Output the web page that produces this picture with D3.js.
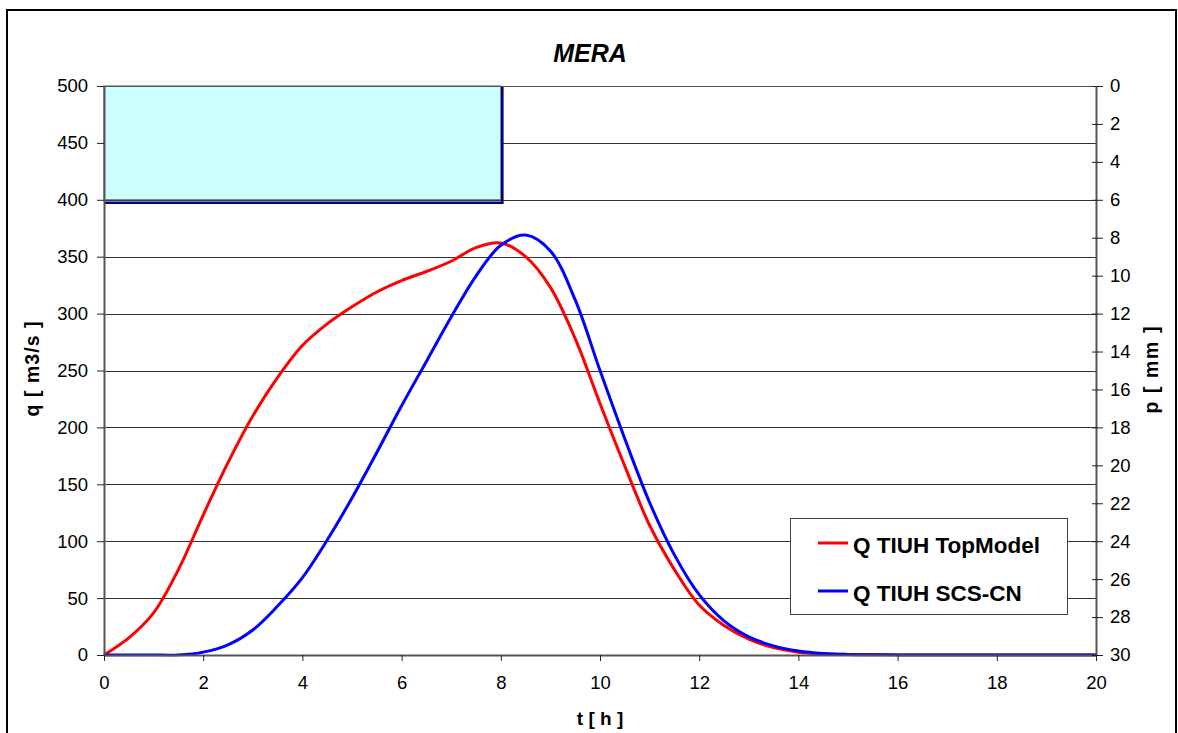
<!DOCTYPE html>
<html>
<head>
<meta charset="utf-8">
<script src="https://cdn.jsdelivr.net/npm/d3@7"></script>
<style>
  html, body { margin: 0; padding: 0; background: #fff; }
  svg { display: block; }
  text { font-family: "Liberation Sans", Arial, sans-serif; fill: #000; }
</style>
</head>
<body>
<svg id="chart" width="1178" height="733"></svg>
<script>
// ---------------- data ----------------
const title = "MERA";
const timeH = [0,0.5,1,1.5,2,2.5,3,3.5,4,4.5,5,5.5,6,6.5,7,7.5,8,8.5,9,9.5,10,10.5,11,11.5,12,12.5,13,13.5,14,14.5,15,15.5,16,16.5,17,17.5,18,18.5,19,19.5,20];
const qTopModel = [0,15,37,75,123,169,210,244,272,291,306,319,329,337,346,358,362,350,323,278,221,166,114,75,44,26,14,6.5,2.5,1,0.4,0.2,0.1,0,0,0,0,0,0,0,0];
const qScsCn    = [0,0,0,0,2.5,9,22,43,68,101,138,178,219,258,297,333,360,369,355,312,250,190,134,88,53,30,16,8,3.5,1.3,0.5,0.2,0.1,0,0,0,0,0,0,0,0];
const rainStart = [0];
const rainEnd   = [8];
const rainDepth = [6];
const seriesNames = ["Q TIUH TopModel", "Q TIUH SCS-CN"];
const seriesColors = ["#FF0000", "#0000FF"];
const xTicks = [0,2,4,6,8,10,12,14,16,18,20];
const yTicks = [0,50,100,150,200,250,300,350,400,450,500];
const pTicks = [0,2,4,6,8,10,12,14,16,18,20,22,24,26,28,30];
const xLabel = "t [ h ]";
const yLabel = "q [ m3/s ]";
const pLabel = "p [ mm ]";

// ---------------- layout ----------------
const svg = d3.select("#chart");
const L = 104, R = 1096, T = 86, B = 655;
const x = d3.scaleLinear().domain([0,20]).range([L,R]);
const y = d3.scaleLinear().domain([0,500]).range([B,T]);
const p = d3.scaleLinear().domain([0,30]).range([T,B]);
const tickFont = "18.5px";

// outer frame
svg.append("rect").attr("x",7).attr("y",10).attr("width",1169).attr("height",740)
  .attr("fill","#fff").attr("stroke","#000").attr("stroke-width",2);

svg.append("defs").append("clipPath").attr("id","plotclip")
  .append("rect").attr("x",L-3).attr("y",T-5).attr("width",R-L+6).attr("height",B-T+6.5);

// gridlines
svg.append("g").selectAll("line").data(yTicks.filter(d => d > 0)).join("line")
  .attr("x1",L).attr("x2",R)
  .attr("y1",d => Math.round(y(d)) + 0.5).attr("y2",d => Math.round(y(d)) + 0.5)
  .attr("stroke","#333").attr("stroke-width",1);

// rain bar
const rain = rainStart.map((s,i) => ({s, e: rainEnd[i], d: rainDepth[i]}));
const rg = svg.append("g");
rg.selectAll("rect.rain").data(rain).join("rect").attr("class","rain")
  .attr("x",d => x(d.s)).attr("y",p(0))
  .attr("width",d => x(d.e) - x(d.s)).attr("height",d => p(d.d) - p(0))
  .attr("fill","#CCFFFF").attr("stroke","#555").attr("stroke-width",1);
rg.selectAll("path.shadow").data(rain).join("path").attr("class","shadow")
  .attr("d",d => `M${x(d.s)},${p(d.d)+3} H${x(d.e)+1.5} V${p(0)}`)
  .attr("fill","none").attr("stroke","#000080").attr("stroke-width",2.6);
svg.append("line").attr("x1",L).attr("x2",R).attr("y1",T+0.5).attr("y2",T+0.5)
  .attr("stroke","#555").attr("stroke-width",1);

// curves
const line = d3.line().x(d => x(d[0])).y(d => y(d[1])).curve(d3.curveCatmullRom.alpha(0.5));
const cg = svg.append("g").attr("clip-path","url(#plotclip)");
[qTopModel, qScsCn].forEach((vals,i) => {
  cg.append("path").datum(timeH.map((t,j) => [t, vals[j]]))
    .attr("d", line).attr("fill","none")
    .attr("stroke", seriesColors[i]).attr("stroke-width",3).attr("stroke-linejoin","round");
});

// axes
const styleAxis = g => {
  g.select(".domain").attr("stroke","#555").attr("stroke-width",2);
  g.selectAll(".tick line").attr("stroke","#222").attr("stroke-width",1);
  g.selectAll(".tick text").style("font-size",tickFont).attr("fill","#000");
};
svg.append("g").attr("transform",`translate(${L},0)`)
  .call(d3.axisLeft(y).tickValues(yTicks).tickSizeInner(7).tickSizeOuter(0).tickPadding(9))
  .call(styleAxis);
svg.append("g").attr("transform",`translate(0,${B})`)
  .call(d3.axisBottom(x).tickValues(xTicks).tickSizeInner(6).tickSizeOuter(0).tickPadding(15))
  .call(styleAxis);
const ra = svg.append("g").attr("transform",`translate(${R},0)`)
  .call(d3.axisRight(p).tickValues(pTicks).tickSizeInner(7).tickSizeOuter(0).tickPadding(7))
  .call(styleAxis);
ra.selectAll(".tick line").attr("x1",-4);

// title & labels
svg.append("text").attr("x",590).attr("y",62).attr("text-anchor","middle")
  .style("font-size","25px").style("font-weight","bold").style("font-style","italic").text(title);
svg.append("text").attr("x",600).attr("y",725).attr("text-anchor","middle")
  .style("font-size","19px").style("font-weight","bold").text(xLabel);
svg.append("text").attr("transform","translate(38.5,369) rotate(-90)").attr("text-anchor","middle")
  .style("font-size","19.5px").style("font-weight","bold").style("white-space","pre")
  .attr("textLength",95).attr("lengthAdjust","spacing").text(yLabel);
svg.append("text").attr("transform","translate(1158,370) rotate(-90)").attr("text-anchor","middle")
  .style("font-size","19.5px").style("font-weight","bold").style("white-space","pre")
  .attr("textLength",87).attr("lengthAdjust","spacing").text(pLabel);

// legend
const lg = svg.append("g");
lg.append("rect").attr("x",790.5).attr("y",518.5).attr("width",277).attr("height",96)
  .attr("fill","#fff").attr("stroke","#444").attr("stroke-width",1);
const legY = [543, 591];
seriesNames.forEach((n,i) => {
  lg.append("line").attr("x1",818).attr("x2",848).attr("y1",legY[i]).attr("y2",legY[i])
    .attr("stroke",seriesColors[i]).attr("stroke-width",3);
  lg.append("text").attr("x",853).attr("y",legY[i]+9.5)
    .style("font-size","22.5px").style("font-weight","bold").text(n);
});
</script>
</body>
</html>
